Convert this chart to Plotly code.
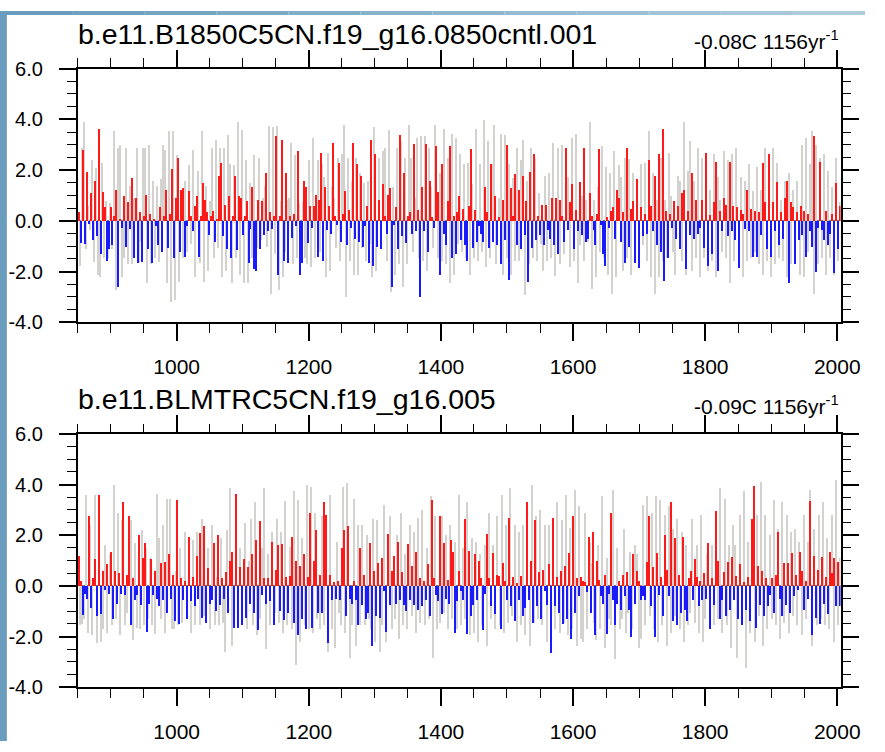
import numpy as np
import plotly.graph_objects as go

# ---------------- data ----------------
YEAR_START, YEAR_END = 850, 2005
X_TICKS = [1000, 1200, 1400, 1600, 1800, 2000]
Y_TICKS = [-4.0, -2.0, 0.0, 2.0, 4.0, 6.0]

P1_TITLE = "b.e11.B1850C5CN.f19_g16.0850cntl.001"
P1_TREND = "-0.08C 1156yr<sup>-1</sup>"
P2_TITLE = "b.e11.BLMTRC5CN.f19_g16.005"
P2_TREND = "-0.09C 1156yr<sup>-1</sup>"

# panel 1: annual anomaly (red > 0, blue < 0), read left to right
P1_ANOM = [
    0.35, -0.85, 2.8, -0.9, 1.95, -0.1, 1.1, -0.75, 1.6, -0.6,
    3.65, -1.3, 1.15, 0.55, -1.55, -1.1, 0.55, -0.95, 0.2, 1.25,
    -2.6, 0.1, -0.25, 1.0, -1.0, 0.75, -0.3, 1.7, -1.45, 0.9,
    -1.65, 0.35, -1.6, 0.2, 1.05, -1.1, 0.3, -1.65, 0.1, -0.2,
    -0.95, 0.55, -1.2, 0.2, 1.25, -1.05, 0.3, 2.05, -1.45, 0.9,
    2.5, -1.2, 1.25, 1.3, -1.4, -0.2, 1.2, 0.2, -0.4, 0.6,
    1.0, -1.4, 0.2, 1.5, 0.85, 0.35, -0.55, 0.2, 0.4, -0.8,
    0.1, 1.8, 2.3, -0.6, 0.65, -1.1, 1.0, -1.45, 0.2, 1.8,
    -1.15, 1.0, 0.9, -0.55, 0.2, 0.8, -1.65, -0.3, 1.35, -1.9,
    -1.95, 0.85, -1.1, 0.8, -0.55, 1.9, -0.4, 0.35, -0.3, 0.2,
    3.35, -2.1, 0.2, 3.2, -1.55, 1.9, -1.65, 0.2, -0.65, 0.3,
    -0.2, 2.75, -2.1, -1.65, 1.6,
    1.35, -0.85, 0.6, -0.25, 0.6, 1.05, -1.4, 0.85, 2.7, -1.55,
    1.35, -0.35, 0.6, -0.5, 3.1, 0.2, -0.15, 2.3, -0.8, 0.3,
    1.2, -0.95, 0.45, -0.25, 3.1, -0.7, 2.25, -0.8, 1.8, -1.0,
    -0.2, 0.6, -1.65, 3.2, -1.75, 2.65, -1.0, 0.85, -1.1, 1.45,
    0.2, -0.5, 1.05, 1.3, -2.6, -0.15, 0.55, -1.1, 3.4, -0.6,
    1.9, -0.85, 0.2, 0.35, -0.5, 3.05, -0.4, 0.45, -3.0, 1.35,
    -0.4, 3.05, -1.2, 1.6, 0.15, -0.25, 2.95, 1.15, -2.1, 2.25,
    -0.5, -0.95, 0.8, 2.95, -1.45, 0.2, -1.3, 0.35, 1.0, -0.75,
    0.5, -0.95, -1.55, 0.6, 2.85, -1.05, 0.45, -0.8, -0.2, -0.5,
    -0.8, 1.35, 0.35, -1.05, 2.25, -0.8, 1.0, -0.95, 0.15, -1.7,
    0.85, -0.75, 3.0, -2.3, 1.3, 0.2, 1.85, -0.95, 1.25, -1.1,
    1.8, -0.55, 0.8, -2.4, 1.95, -1.05, 2.65, -0.75, 0.2, -0.55,
    0.65, -0.95, 0.65, -0.35, -0.7, 0.9, -0.95, 0.9, -1.3, 0.85,
    0.2, -0.8, 2.9, -0.35, 0.75, 1.45, -1.1, 0.45, -0.4, 1.55,
    -0.55, 2.9, -0.8,
    -0.7, 1.1, 0.2, -0.35, -0.95, 0.3, 2.85, -0.15, -1.3, -1.75,
    0.15, -0.25, 0.4, 0.55, -0.7, 1.25, 0.9, -0.8, 0.35, -1.65,
    2.9, -1.0, 0.5, 0.8, -1.65, 1.65, -1.85, 0.55, -0.6, 0.3,
    -0.5, 2.4, 0.6, -0.4, 1.8, -0.95, 2.65, -1.2, 3.65, -2.35,
    0.4, -1.45, 0.3, -0.25, 0.8, -0.7, 0.6, -1.1, 1.1, 1.25,
    -1.9, 0.4, -0.55, 1.9, -0.7, 0.85, -0.5, -0.25, 0.85, -1.05,
    2.7, -1.75, 0.25, -1.3, 0.75, 2.35, -1.95, 0.4, -0.4, 0.9,
    0.65, -0.6, 2.35, -0.4, 0.6, -0.75, 0.55, -1.85, 0.45, 0.3,
    -0.3, 1.25, -0.4, 0.5, -1.4, 0.4, -1.4, 0.35, -0.55, 2.3,
    0.75, -1.1, 2.65, -1.4, 0.75, -0.4, 1.55, -0.95, 0.35, -0.7,
    0.9, 1.6, -2.45, 0.75, 0.55, -1.7, 0.35, -0.75, 0.6, -0.55,
    0.4, -1.4, 0.3, -0.4, -1.0, 3.35, -2.0, -0.25, 2.35, -0.35,
    -0.75, 0.4, -0.95, -0.5, 0.3, -2.05, 1.5, -1.1, 0.6,
]

# panel 1: grey background series
P1_GRAY = [
    -1.75, 2.9, 3.9, -1.1, 0.6, -0.35, 2.4, -1.6, 2.1, -2.1,
    -2.2, 2.3, -1.45, 0.8, -1.45, 0.7, -1.1, 3.55, -2.7, 2.9,
    3.0, -2.2, -1.45, 2.9, -1.7, 1.4, -1.7, 0.9, 2.9, -1.65,
    -0.8, 2.9, 2.9, -2.45, 3.0, -1.7, 1.6, -1.45, 1.4, -1.6,
    1.65, 3.0, 2.8, -2.45, 3.55, -3.2, 3.55, -3.1, 2.6, -2.4,
    1.1, -1.45, 1.6, -1.2, 2.2, -0.9, 2.8, -2.2, 2.0, -1.65,
    3.55, -2.4, 1.4, -1.95, 0.8, 2.9, -1.45, 3.2, -1.05, 2.9,
    -2.2, 2.9, -1.95, 3.4, 2.25, -2.45, 2.2, -1.45, 3.9, -2.1,
    3.6, -2.45, 2.4, -2.45, 1.5, -1.45, 2.6, -1.05, 2.5, -0.75,
    0.9, 1.4, -1.0, 3.75, -2.85, 3.7, -1.3, 3.75, -2.7, 0.8,
    -2.2, -1.2, 0.85, 0.9, 3.1, -1.7, 2.6, -1.45, 0.7, -1.1,
    0.75, -1.45, -1.7, 2.4, -1.8, 3.3, -1.45, 2.4, -1.2, 2.25,
    1.75, -2.2, 2.7, -1.95, 1.35, 0.9, -1.05, 2.5, -1.55, 2.65, 3.8,
    -3.0, 2.5, -1.55, 1.6, -2.1, 2.5, -2.1, 1.9, -1.05, 1.5,
    -1.55, 1.6, -0.9, -2.2, 3.7, -1.95, 2.5, -1.05, 2.75, 2.9, -1.55,
    3.6, -2.8, 1.35, -2.1, 2.9, -1.7, 3.15, -2.6, 2.5, -1.7,
    3.8, 2.5, -1.2, 0.9, 3.3, -1.45, 3.35, -1.55, 3.35, -1.95, 2.9,
    1.35, -1.05, 3.8, -1.45, 1.9, -1.55, 3.65, -1.7, 2.5, -2.45,
    3.45, -2.1, 3.3, -0.9, 2.65, -1.2, 2.25, -1.45, 2.3, -2.1, 1.45,
    -1.45, 3.65, -1.55, 2.25, -1.2, 4.0, -1.8, 3.15, -1.45, 2.25,
    3.8, -1.7, 0.9, 3.45, -2.1, 3.4, -1.45, 2.25, -2.1, 1.7, -1.55,
    2.9, -1.55, 2.4, 3.2, -2.9, 1.6, -1.7, 2.9, -1.45, 2.5,
    -1.55, 1.1, -0.9, -1.95, 1.8, -1.55, 1.9, -1.45, 3.1, -2.15, 2.9,
    -1.7, 3.0, -1.3, 1.5, 1.75, -1.8, 3.3, -1.55,
    3.45, -2.45, -0.95, 1.0, -1.55, 0.85, -0.8, 3.9, -2.65, 0.85,
    -2.2, 1.35, -1.2, 2.95, -1.45, 2.15, -2.1, 1.9, -2.85, 2.75,
    -2.2, 2.2, 1.75, -1.95, 2.5, -1.45, 2.45, -2.1, 1.9, -1.2,
    1.25, -1.7, 2.25, -0.95, 2.3, -1.55, 3.55, -2.2, 1.9, -2.85,
    0.85, -2.2, 2.5, -1.55, 0.85, -1.45, 2.7, 1.0, -1.2, -2.1,
    1.8, 1.6, -1.55, 3.9, -2.1, 2.0, 3.15, -1.95, 1.6, -1.45,
    2.9, -2.2, 2.5, -1.45, 2.5, -1.95, 1.25, -1.55, 2.65, -2.2,
    1.75, 0.85, -1.2, 2.75, -1.45, 2.4, -2.45, 2.65, -1.55, 2.9,
    -1.45, 1.75, -2.2, 1.6, -1.55, 2.25, -1.45, 1.2, -1.2, 2.15,
    -1.7, 1.25, -2.1, 2.9, -1.55, 1.6, -2.2, 2.9, -1.7, 2.3,
    -1.45, 0.85, -1.55, 1.6, -2.2, 1.9, -1.7, 1.25, -1.55, 1.6,
    -2.1, 3.0, -2.2, 3.3, -1.2, 2.25, 3.55, -2.85, 3.0, -1.7,
    2.5, -1.45, 2.65, -2.1, 2.0, -1.45, 1.35, -2.1, 2.5, -1.55,
    0.75,
]

# panel 2: annual anomaly
P2_ANOM = [
    1.2, 0.2, -1.15, -0.3, -0.5, 2.75, -0.85, 0.3, 1.05, -1.2,
    3.6, -1.1, 0.6, -0.15, 0.85, -0.3, 1.35, -1.3, 0.6, -0.7,
    0.5, -0.3, 3.3, -0.35, 0.45, 2.75, -1.55, 0.3, -0.55, -0.35,
    2.0, -0.75, 1.1, 1.7, -1.8, -0.7, 1.05, -0.35, 0.6, -0.5,
    -0.8, 0.9, -0.55, 0.95, -1.05, 1.25, -0.5, 0.45, -1.4, 3.4,
    -1.5, 0.3, -0.55, 0.2, -1.3, 1.95, -0.6, 0.35, -0.8, 1.2,
    -0.5, 2.1, -1.25, 2.35, -1.45, 0.7, -0.7, -0.55, 1.7, -1.0,
    2.0, -0.75, 0.3, -0.5, 0.55, -1.05, 1.0, 1.35, -1.65, 3.65,
    -1.65, 0.75, -1.55, 1.05, -1.25, 0.75, -0.7, 1.25, -1.05, 1.8,
    -1.75, 2.55, -0.35, 0.3, -0.7, 0.3, -0.6, 1.75, -1.55, 0.65,
    1.6, -1.0, 1.65, -1.35, 0.35, -1.05, 0.4, 1.95, -1.45, 1.0,
    -1.95, 0.8, -1.3, 1.25, -1.7, 0.35,
    2.9, -1.65, 1.0, 2.2, -1.05, 0.45, -1.05, 3.3, 2.8, -2.25,
    0.45, -0.55, 0.15, -0.5, 0.2, -0.55, 1.5, 2.2, -1.2, 2.35, -0.5,
    -0.7, 0.2, -0.55, -1.55, 1.5, -0.75, 0.45, -1.3, -1.05, 1.7,
    -2.35, 0.6, -1.2, 0.9, -1.25, 1.1, -0.2, -1.8, 2.05, -0.75, 0.6,
    1.2, -0.7, 1.75, -0.55, 0.55, -0.75, -1.0, 1.65, -0.55, 0.8,
    -0.75, 1.35, -0.95, 0.3, -0.8, 0.2, -0.55, 0.85, -1.2, 3.4, 0.3,
    -0.35, -0.6, 2.75, -1.1, 1.7, -0.5, 0.25, -0.7, 1.8, 1.35,
    -1.85, -0.6, 0.6, -0.2, -0.55, 2.65, -1.9, 1.4, -1.2, -0.75, 1.25,
    -0.55, 1.0, 0.3, -1.75, -0.3, 2.05, 0.3, -0.8, 1.3, -1.1,
    0.45, 0.4, -1.7, 0.9, 0.2, -0.55, 2.7, -0.8, 0.35, -1.4, 0.1,
    -0.55, 0.4, -1.2, -0.85, 3.3, -0.55, 1.0, -1.45, 2.6, -0.8,
    0.55, -1.3, 0.65, -0.2, -0.75, 0.85, -2.65, 2.7, -0.8, 0.35, -1.05,
    0.6, -1.5, 0.8, -1.3, 1.3, -2.1, 2.75, -1.05, 0.3, -0.4,
    0.35, 0.2,
    0.15, -0.25, 1.95, -1.05, 2.15, -1.95, 1.0, 0.25, -0.4, -0.7,
    0.45, -1.9, -0.3, 2.9, -0.55, -1.55, -0.7, 0.2, -0.95, 0.45,
    -0.4, 0.55, -0.95, -2.0, 1.25, -0.7, 0.6, 0.2, -0.55, -0.4,
    -0.55, 0.95, 2.75, -0.8, 0.75, -2.0, 1.3, -0.35, 0.35, -1.2,
    2.0, 0.65, -0.4, 3.3, -1.4, 1.9, -1.55, 0.45, -1.05, 1.95,
    -0.95, -1.4, 0.3, 0.6, -0.55, 1.05, 0.35, -0.8, 0.2, -0.55,
    0.5, -0.5, 1.7, -1.7, 0.3, -0.75, 2.95, 1.0, -1.3, -0.55,
    0.55, -1.2, 0.95, -0.95, 1.15, -0.55, 0.4, -1.3, 0.85, -1.55,
    0.15, -0.95, 0.35, -1.4, 2.65, 3.95, -1.65, 0.8, -0.75, 0.6,
    -1.2, 0.3, -0.8, -0.35, 0.3, -1.05, 0.45, 2.15, -0.5, -1.2,
    0.9, -0.75, 0.9, -1.05, 1.3, -0.4, 0.45, -0.15, 1.35, 0.6,
    -0.95, 0.2, -0.5, 3.35, -1.95, 1.2, -1.25, 0.65, -1.5, 1.15,
    -0.7, 0.35, -1.1, 1.35, 0.5, 1.1, -0.8, 0.95, -0.8,
]

# panel 2: grey background series
P2_GRAY = [
    -1.55, -1.5, -1.3, 3.6, -1.85, 2.4, -1.95, 3.6, -2.25, 1.35,
    -2.2, -1.7, 1.6, -1.85, 1.25, -1.55, 4.0, -1.3, 2.9, -1.95,
    2.6, -1.55, -1.05, 2.5, 2.6, -2.15, 1.7, -1.65, -1.7, 2.2,
    -1.55, 1.5, -1.3, 1.1, -1.55, -1.9, 3.65, 1.9, -1.3, 2.4,
    -1.85, 3.45, 3.45, -1.7, -1.7, 0.6, -1.55, 1.5, -1.45, 2.15,
    -1.3, 1.5, -1.85, 1.8, -1.55, 2.15, -1.55, 2.65, -1.2, -1.05,
    1.5, -1.7, 2.4, -1.55, 0.35, -1.55, 1.9, -1.45, -2.6, 2.2,
    3.85, -2.35, -1.2, 2.15, -1.55, 1.5, -1.55, 2.5, -1.7, 1.0,
    2.65, -1.55, 3.3, -1.95, -1.3, 1.5, 3.85, -2.5, 1.25, -1.55,
    2.15, -1.05, 2.65, -1.45, 2.15, -1.85, 3.35, -1.55, 1.55, -1.7,
    3.75, -3.1, 3.4, -2.2, 1.9, -1.55, 4.0, -1.7,
    3.9, -1.85, 2.9, -1.3, -1.7, 2.75, -1.55, 1.5, -2.6, 3.6,
    -1.7, -2.45, 1.75, -1.05, -1.55, 3.9, -1.85, 4.05, -2.85, -1.55,
    3.45, -2.35, 2.4, -1.55, 2.4, -1.55, 2.0, -1.3, -1.7, 2.65,
    -2.2, 2.6, -2.6, -1.55, 3.2, -2.2, 1.75, 2.75, -1.7, -1.3,
    2.0, -2.1, 2.9, -1.55, 1.25, -1.7, 2.4, -1.2, 2.15, -1.85,
    2.7, -1.45, 3.0, -1.55, 1.5, -1.3, 3.55, -2.85, 2.75, -1.7,
    -1.45, 2.75, -1.05, 2.0, -1.7, 2.4, -1.3, 1.75, -1.7, 3.6,
    -1.55, 1.5, -1.3, 3.3, -1.95, 1.9, -1.85, 1.75, -2.2, 1.25,
    -1.55, 1.6, -2.35, 2.9, -1.3, 1.6, -1.7, 2.75, -1.55, 3.6,
    -1.85, 2.4, -1.45, 3.85, -1.2, 2.4, -2.2, 2.15, -1.55, 2.4,
    -1.95, 2.7, -2.35, 4.0, -1.45, 2.75, -1.3, 3.0, -1.55, 2.4,
    -2.2, 2.4, -1.55, 2.4, -1.7, 3.3, -1.85, 2.6, -1.45, 3.6,
    -1.95, 2.3, -1.7, 3.8, -2.35, 3.15, -2.1, -2.2, 2.9, -1.7,
    1.75,
    0.9, -1.45, -2.15, 1.6, -1.7, 3.55, -2.45, 1.1, -1.3, -1.55,
    3.8, -2.9, 1.5, -1.7, -1.3, 2.25, -1.85, -1.05, 1.35, -1.7,
    1.6, 1.25, -2.45, -2.1, 3.2, -1.55, 3.55, -1.2, 2.9, -1.7,
    3.55, -2.2, 3.4, -1.55, 2.8, -2.35, 3.15, -1.85, 2.25, -1.2,
    2.65, -1.7, 2.15, -2.2, 1.6, -1.55, -1.05, 2.65, -1.45, 1.6,
    -1.85, 2.8, -2.2, -1.3, 1.25, -1.05, 1.6, -1.55, 2.25, -1.3,
    3.85, -1.85, 3.45, -1.55, 1.6, -2.45, 2.4, 1.6, -2.85, 2.8,
    -1.55, 3.75, -3.25, 1.75, -1.85, 1.1, -2.2, 2.8, -1.2, 4.1,
    -2.35, 2.8, -1.7, 2.0, -1.3, 3.4, -1.55, 2.25, -2.1, 3.3,
    -1.45, 2.8, -1.85, 2.15, -1.2, 2.25, -1.55, 1.75, -1.95, 2.8,
    -1.3, 1.75, 3.8, -2.35, 2.25, -1.55, 2.8, -1.3, 3.3, -1.55,
    1.9, -1.7, 2.8, -2.2, 4.2, -1.55, 1.1,
]

# ---------------- styling ----------------
W, H = 885, 752
FONT = "Liberation Sans, Arial, Helvetica, sans-serif"
RED, BLUE, GREY = "#ff1a1a", "#1a1aff", "rgb(212,210,206)"

X_DOM = [79.4 / W, 860.0 / W]
PANELS = [
    dict(title=P1_TITLE, trend=P1_TREND, anom=P1_ANOM, gray=P1_GRAY,
         top=59.3, bottom=320.7, title_base=34.0, trend_base=37.0),
    dict(title=P2_TITLE, trend=P2_TREND, anom=P2_ANOM, gray=P2_GRAY,
         top=435.7, bottom=696.7, title_base=410.0, trend_base=413.0),
]

fig = go.Figure()
layout = dict(
    width=W, height=H, margin=dict(l=0, r=0, t=0, b=0),
    paper_bgcolor="white", plot_bgcolor="white", showlegend=False,
    barmode="overlay", bargap=0, font=dict(family=FONT, color="black"),
)
annotations, shapes = [], []

for i, p in enumerate(PANELS, start=1):
    xa = "x" if i == 1 else f"x{i}"
    ya = "y" if i == 1 else f"y{i}"
    anom = np.asarray(p["anom"], dtype=float)
    gray = np.asarray(p["gray"], dtype=float)
    xg = np.linspace(YEAR_START + 2.5, YEAR_END - 1.0, len(gray))
    xc = np.linspace(YEAR_START + 1.5, YEAR_END - 1.5, len(anom))
    fig.add_trace(go.Bar(x=xg, y=gray, width=1.8, marker=dict(color=GREY, line=dict(width=0)),
                         xaxis=xa, yaxis=ya, hoverinfo="skip"))
    fig.add_trace(go.Bar(x=xc, y=anom, width=1.6,
                         marker=dict(color=[RED if v >= 0 else BLUE for v in anom], line=dict(width=0)),
                         xaxis=xa, yaxis=ya, hoverinfo="skip"))

    y_dom = [1 - p["bottom"] / H, 1 - p["top"] / H]
    layout["xaxis" if i == 1 else f"xaxis{i}"] = dict(
        domain=X_DOM, range=[YEAR_START, YEAR_END], anchor=ya,
        tickmode="array", tickvals=X_TICKS, ticktext=[str(t) for t in X_TICKS],
        ticks="outside", ticklen=17, tickwidth=1.5, tickcolor="black",
        showline=True, linecolor="black", linewidth=1.5, mirror="ticks",
        showgrid=False, zeroline=False,
        tickfont=dict(family=FONT, size=21, color="black"), ticklabelstandoff=8,
        minor=dict(tickmode="linear", tick0=850, dtick=50, ticks="outside", ticklen=8.5,
                   tickwidth=1.2, tickcolor="black", showgrid=False),
    )
    layout["yaxis" if i == 1 else f"yaxis{i}"] = dict(
        domain=y_dom, range=[-4, 6], anchor=xa,
        tickmode="array", tickvals=Y_TICKS, ticktext=[f"{t:.1f}" for t in Y_TICKS],
        ticks="outside", ticklen=17, tickwidth=1.5, tickcolor="black",
        showline=True, linecolor="black", linewidth=1.5, mirror="ticks",
        showgrid=False, zeroline=True, zerolinecolor="#777777", zerolinewidth=1,
        tickfont=dict(family=FONT, size=20, color="black"), ticklabelstandoff=12,
        minor=dict(tickmode="linear", tick0=0, dtick=0.5, ticks="outside", ticklen=8.5,
                   tickwidth=1.2, tickcolor="black", showgrid=False),
    )
    annotations.append(dict(
        text=p["title"], xref="paper", yref="paper", x=X_DOM[0] - 1.5 / W,
        y=1 - (p["title_base"] - 10.0) / H, xanchor="left", yanchor="middle",
        showarrow=False, font=dict(family=FONT, size=28.5, color="black")))
    annotations.append(dict(
        text=p["trend"], xref="paper", yref="paper", x=X_DOM[1],
        y=1 - (p["trend_base"] - 7.5) / H, xanchor="right", yanchor="middle",
        showarrow=False, font=dict(family=FONT, size=21, color="black")))

# steel-blue window frame at the left and top edges
shapes.append(dict(type="rect", xref="paper", yref="paper", x0=0, x1=7 / W, y0=0, y1=1,
                   fillcolor="#6a9dbd", line=dict(width=0), layer="below"))
n_seg = 12
c0, c1 = np.array([106, 157, 189]), np.array([176, 204, 220])
for k in range(n_seg):
    c = (c0 + (c1 - c0) * k / (n_seg - 1)).astype(int)
    shapes.append(dict(type="rect", xref="paper", yref="paper", x0=k / n_seg, x1=(k + 1) / n_seg,
                       y0=1 - 4 / H, y1=1, fillcolor=f"rgb({c[0]},{c[1]},{c[2]})",
                       line=dict(width=0), layer="below"))

layout["annotations"] = annotations
layout["shapes"] = shapes
fig.update_layout(**layout)
fig.write_html("out.html")
